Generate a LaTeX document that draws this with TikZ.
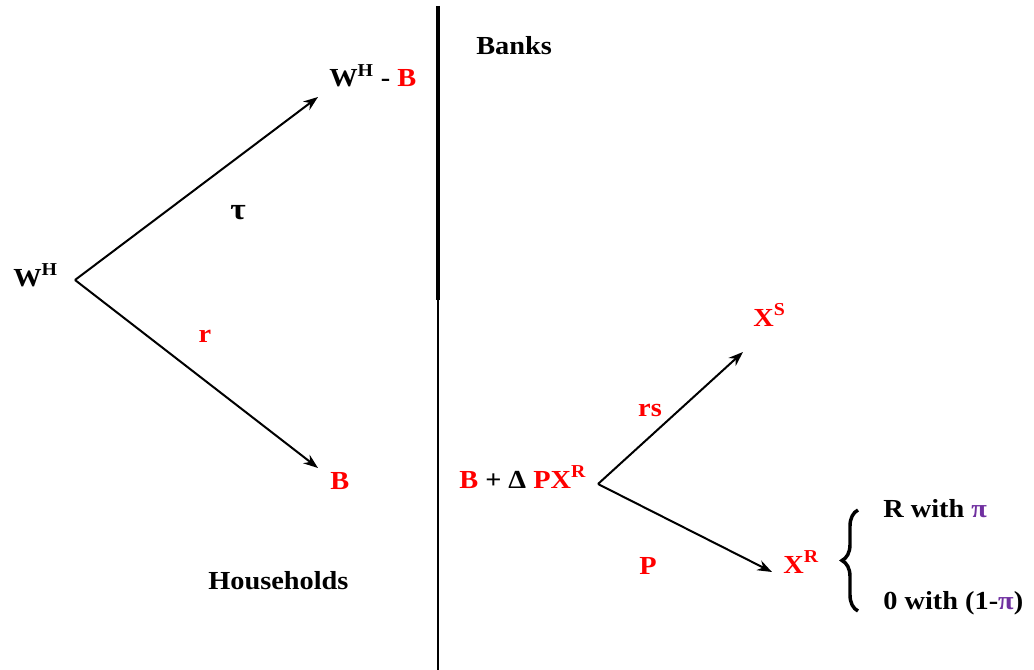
\documentclass[tikz,border=0pt]{standalone}
\usepackage{fontspec}
\setmainfont{Liberation Serif}
\usetikzlibrary{arrows.meta,decorations.pathreplacing}
\definecolor{pipurple}{RGB}{112,48,160}

\begin{document}
\begin{tikzpicture}[x=0.75pt,y=-0.75pt,
		lbl/.style={font=\fontsize{19.5}{22}\selectfont\bfseries,xscale=1.09,inner sep=0pt},
		arr/.style={line width=1.5pt,-{Stealth[length=11pt,width=8pt]}}]
				\useasboundingbox (0,0) rectangle (1034,670);

				% split line
				\draw[line width=2.8pt] (438,6)--(438,300);
				\draw[line width=2pt] (438,300)--(438,670);

				\node[lbl,anchor=base west] (wh) at (13,286) {W\textsuperscript{H}};
				\node[lbl,anchor=base west] (whb) at (329,87) {W\textsuperscript{H} - \textcolor{red}{B}};
				\node[lbl,anchor=base west] (hb) at (330,489) {\textcolor{red}{B}};
				\node[lbl,font=\fontsize{23}{24}\selectfont\bfseries] (tau) at (238,213) {τ};
				\node[lbl,red] (r) at (205,336) {r};
				\node[lbl,anchor=base west] (hh) at (208,589) {Households};
				\node[lbl,anchor=base west] (banks) at (476,55) {Banks};

				\node[lbl,anchor=base west] (bd) at (459,488)
				{\textcolor{red}{B} + Δ \textcolor{red}{PX\textsuperscript{R}}};
				\node[lbl,red,anchor=base west] (xs) at (753,326) {X\textsuperscript{S}};
				\node[lbl,red,anchor=base west] (xr) at (783,573) {X\textsuperscript{R}};
				\node[lbl,red] (rs) at (650,410) {rs};
				\node[lbl,red] (p) at (648,566) {P};

				\node[lbl,anchor=base west] (rwith) at (883,517)
				{R with \textcolor{pipurple}{π}};
				\node[lbl,anchor=base west] (zwith) at (883,609)
				{0 with (1-\textcolor{pipurple}{π})};

				\coordinate (hroot) at (75,280);
				\coordinate (hup) at (318,97);
				\coordinate (hdown) at (318,468);
				\coordinate (broot) at (598,484);
				\coordinate (bup) at (743,352);
				\coordinate (bdown) at (772,572);

				\foreach \a/\b in {hroot/hup,hroot/hdown,broot/bup,broot/bdown}
				{
					\draw[arr] (\a)--(\b);
				}

				\draw[line width=2.6pt,decorate,decoration={brace,amplitude=12pt}]
				(858,611)--(858,510);
			\end{tikzpicture}
\end{document}
